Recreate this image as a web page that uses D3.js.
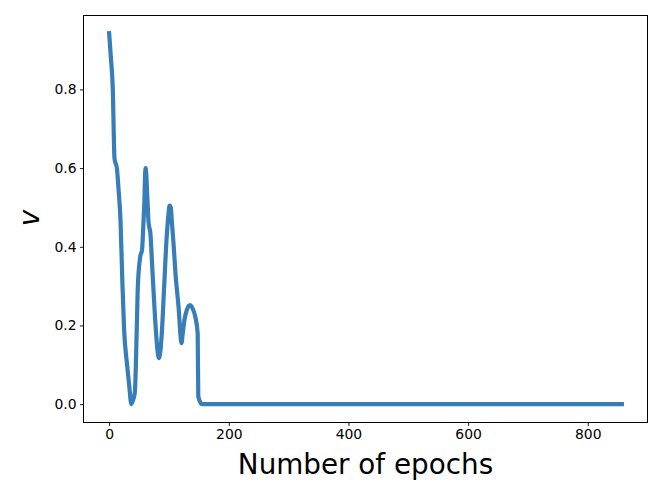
<!DOCTYPE html>
<html>
<head>
<meta charset="utf-8">
<script src="https://cdn.jsdelivr.net/npm/d3@7"></script>
<style>
  html, body { margin: 0; padding: 0; background: #fff; }
  svg { display: block; }
  text { font-family: "DejaVu Sans", sans-serif; fill: #000; }
</style>
</head>
<body>
<svg id="chart" width="664" height="498"></svg>
<script>
// Data
const epochs = [0, 3, 6, 9, 13, 16, 19, 22, 25, 30, 34, 37, 40, 43, 46, 48, 52, 55, 57, 59, 60, 61, 62, 64, 66, 69, 72, 76, 80, 83, 86, 88, 92, 96, 99, 101, 103, 105, 108, 111, 114, 116, 119, 121, 123, 126, 130, 135, 139, 144, 148, 149, 155, 857];
const values = [0.943, 0.88, 0.806, 0.624, 0.599, 0.54, 0.468, 0.315, 0.19, 0.10, 0.04, 0.0, 0.01, 0.03, 0.18, 0.30, 0.375, 0.392, 0.45, 0.52, 0.58, 0.60, 0.585, 0.52, 0.46, 0.434, 0.35, 0.239, 0.15, 0.117, 0.14, 0.18, 0.30, 0.42, 0.48, 0.505, 0.50, 0.46, 0.40, 0.33, 0.28, 0.248, 0.18, 0.155, 0.18, 0.215, 0.24, 0.252, 0.245, 0.222, 0.18, 0.02, 0.0, 0.0];
const xTicks = [0, 200, 400, 600, 800];
const yTicks = [0.0, 0.2, 0.4, 0.6, 0.8];
const xLabel = "Number of epochs";
const yLabel = "v";

const svg = d3.select("#chart");
const mLeft = 83.5, mRight = 647.5, mTop = 15.5, mBottom = 422.5;

const xMax = d3.max(epochs);
const x = d3.scaleLinear().domain([-0.05 * xMax, 1.05 * xMax]).range([mLeft, mRight]);
const y = d3.scaleLinear().domain([-0.0467, 0.988]).range([mBottom, mTop]);

const data = epochs.map((e, i) => ({ e, v: values[i] }));

// line
svg.append("path")
  .datum(data)
  .attr("fill", "none")
  .attr("stroke", "#377eb8")
  .attr("stroke-width", 4.2)
  .attr("stroke-linejoin", "round")
  .attr("stroke-linecap", "square")
  .attr("d", d3.line().x(d => x(d.e)).y(d => y(d.v)).curve(d3.curveMonotoneX));

// axes
const xAxis = d3.axisBottom(x).tickValues(xTicks).tickFormat(d3.format("d")).tickSizeInner(3.5).tickSizeOuter(0).tickPadding(3.5);
const yAxis = d3.axisLeft(y).tickValues(yTicks).tickFormat(d3.format(".1f")).tickSizeInner(3.5).tickSizeOuter(0).tickPadding(3.5);

const gx = svg.append("g").attr("transform", `translate(0,${mBottom})`).call(xAxis);
const gy = svg.append("g").attr("transform", `translate(${mLeft},0)`).call(yAxis);
[gx, gy].forEach(g => {
  g.select(".domain").remove();
  g.selectAll(".tick line").attr("stroke", "#000").attr("stroke-width", 0.9);
  g.selectAll(".tick text").attr("font-family", "DejaVu Sans").attr("font-size", 13.9).attr("fill", "#000");
});

// frame
svg.append("rect")
  .attr("x", mLeft).attr("y", mTop)
  .attr("width", mRight - mLeft).attr("height", mBottom - mTop)
  .attr("fill", "none").attr("stroke", "#000").attr("stroke-width", 1)
  .attr("shape-rendering", "crispEdges");

// labels
svg.append("text")
  .attr("x", (mLeft + mRight) / 2).attr("y", 474)
  .attr("text-anchor", "middle")
  .attr("font-size", 27.8)
  .text(xLabel);

svg.append("text")
  .attr("transform", "translate(38.5,218) rotate(-90)")
  .attr("text-anchor", "middle")
  .attr("font-size", 27.8)
  .attr("font-style", "italic")
  .text(yLabel);
</script>
</body>
</html>
